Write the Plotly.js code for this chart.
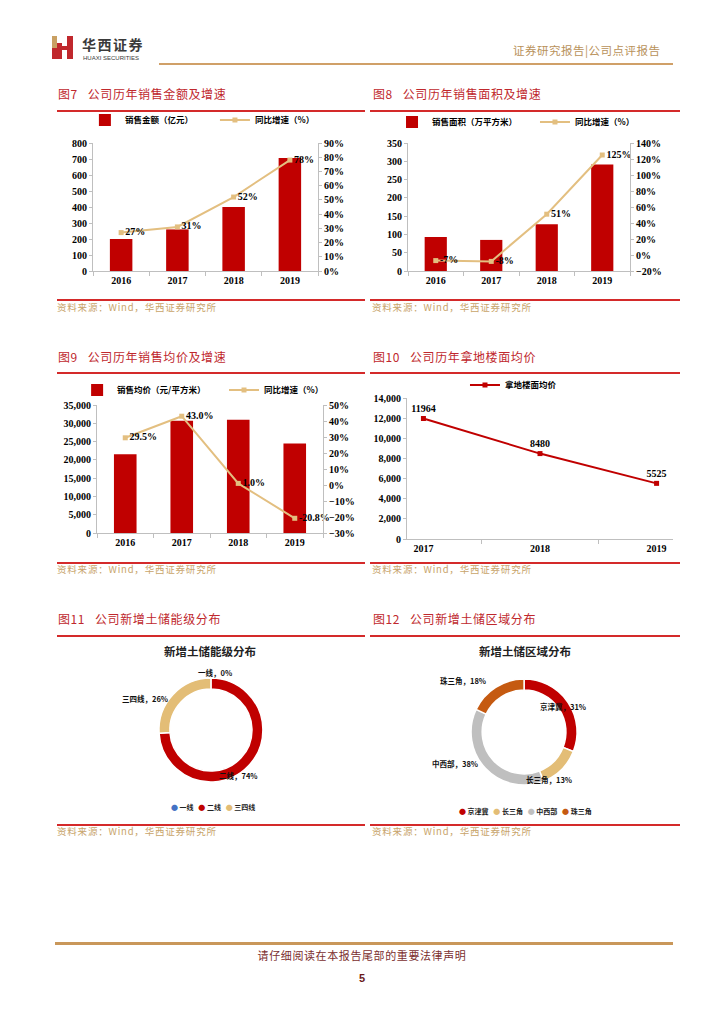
<!DOCTYPE html>
<html>
<head>
<meta charset="utf-8">
<script src="https://cdn.plot.ly/plotly-3.0.1.min.js"></script>
<style>
  html, body { margin:0; padding:0; background:#fff; }
  #page { position:relative; width:724px; height:1024px; overflow:hidden; background:#fff;
          font-family:"Noto Sans CJK SC", sans-serif; }
  .abs { position:absolute; }
  .txt { position:absolute; white-space:nowrap; transform:translateY(-50%); line-height:1; }
  .figt { color:#C0282D; font-size:12px; letter-spacing:0.6px; }
  .src { color:#C8A46A; font-size:9.5px; letter-spacing:0.8px; }
  .rline { position:absolute; height:2px; background:#D42A2A; }
  .chart { position:absolute; }
</style>
</head>
<body>
<div id="page">
  <!-- header -->
  <div class="abs" style="left:52px;top:36px;width:5px;height:12px;background:#C9A063;"></div>
  <div class="abs" style="left:52px;top:48px;width:5px;height:11px;background:#C0282D;"></div>
  <div class="abs" style="left:57px;top:43px;width:5px;height:16px;background:#C0282D;"></div>
  <div class="abs" style="left:67px;top:36px;width:6px;height:23px;background:#C0282D;"></div>
  <div class="abs" style="left:57px;top:46px;width:12px;height:4px;background:#C0282D;"></div>
  <div class="txt" style="left:82px;top:44px;font-size:14px;font-weight:bold;color:#3a3a3a;letter-spacing:1.5px;">华西证券</div>
  <div class="txt" style="left:83px;top:58px;font-size:6px;color:#3a3a3a;font-family:'Liberation Sans',sans-serif;">HUAXI SECURITIES</div>
  <div class="txt" style="left:513px;top:51px;font-size:11.5px;color:#B8915A;letter-spacing:0.5px;">证券研究报告|公司点评报告</div>
  <div class="abs" style="left:159px;top:63px;width:514px;height:2px;background:#D0A068;"></div>

  <!-- figure titles -->
  <div class="txt figt" style="left:58px;top:94px;">图7&nbsp;&nbsp;&nbsp;公司历年销售金额及增速</div>
  <div class="txt figt" style="left:373px;top:94px;">图8&nbsp;&nbsp;&nbsp;公司历年销售面积及增速</div>
  <div class="rline" style="left:57px;top:110px;width:308px;"></div>
  <div class="rline" style="left:370px;top:110px;width:310px;"></div>

  <div class="txt figt" style="left:58px;top:357px;">图9&nbsp;&nbsp;&nbsp;公司历年销售均价及增速</div>
  <div class="txt figt" style="left:373px;top:357px;">图10&nbsp;&nbsp;&nbsp;公司历年拿地楼面均价</div>
  <div class="rline" style="left:57px;top:372px;width:308px;"></div>
  <div class="rline" style="left:370px;top:372px;width:310px;"></div>

  <div class="txt figt" style="left:58px;top:619px;">图11&nbsp;&nbsp;&nbsp;公司新增土储能级分布</div>
  <div class="txt figt" style="left:373px;top:619px;">图12&nbsp;&nbsp;&nbsp;公司新增土储区域分布</div>
  <div class="rline" style="left:57px;top:635px;width:308px;"></div>
  <div class="rline" style="left:370px;top:635px;width:310px;"></div>

  <!-- source lines -->
  <div class="rline" style="left:57px;top:299px;width:308px;"></div>
  <div class="rline" style="left:370px;top:299px;width:310px;"></div>
  <div class="txt src" style="left:57px;top:308px;">资料来源：Wind，华西证券研究所</div>
  <div class="txt src" style="left:372px;top:308px;">资料来源：Wind，华西证券研究所</div>

  <div class="rline" style="left:57px;top:562px;width:308px;"></div>
  <div class="rline" style="left:370px;top:562px;width:310px;"></div>
  <div class="txt src" style="left:57px;top:570px;">资料来源：Wind，华西证券研究所</div>
  <div class="txt src" style="left:372px;top:570px;">资料来源：Wind，华西证券研究所</div>

  <div class="rline" style="left:57px;top:824px;width:308px;"></div>
  <div class="rline" style="left:370px;top:824px;width:310px;"></div>
  <div class="txt src" style="left:57px;top:832px;">资料来源：Wind，华西证券研究所</div>
  <div class="txt src" style="left:372px;top:832px;">资料来源：Wind，华西证券研究所</div>

  <!-- charts -->
  <div id="c7" class="chart" style="left:55px;top:113px;width:310px;height:185px;"></div>
  <div id="c8" class="chart" style="left:370px;top:113px;width:310px;height:185px;"></div>
  <div id="c9" class="chart" style="left:55px;top:376px;width:310px;height:186px;"></div>
  <div id="c10" class="chart" style="left:370px;top:376px;width:310px;height:186px;"></div>
  <div id="c11" class="chart" style="left:55px;top:640px;width:310px;height:182px;"></div>
  <div id="c12" class="chart" style="left:370px;top:640px;width:310px;height:182px;"></div>

  <!-- footer -->
  <div class="abs" style="left:55px;top:942px;width:618px;height:3px;background:#C9975A;"></div>
  <div class="txt" style="left:0;width:724px;text-align:center;top:955px;font-size:11px;color:#7B2E2E;letter-spacing:0.6px;">请仔细阅读在本报告尾部的重要法律声明</div>
  <div class="txt" style="left:0;width:724px;text-align:center;top:978px;font-size:11px;font-weight:bold;color:#6B1A1A;font-family:'Liberation Sans',sans-serif;">5</div>
</div>

<script>
// ---------------- data ----------------
var years4 = ['2016', '2017', '2018', '2019'];

var salesAmount = [200, 260, 400, 707];          // 亿元
var salesAmountGrowth = [27, 31, 52, 78];         // %

var salesArea = [93, 85, 128, 291];               // 万平方米
var salesAreaGrowth = [-7, -8, 51, 125];          // %

var avgPrice = [21500, 30700, 31000, 24500];      // 元/平方米
var avgPriceGrowth = [29.5, 43.0, 1.0, -20.8];    // %

var years3 = ['2017', '2018', '2019'];
var landPrice = [11964, 8480, 5525];

var tierLabels = ['一线', '二线', '三四线'];
var tierValues = [0, 74, 26];

var regionLabels = ['京津冀', '长三角', '中西部', '珠三角'];
var regionValues = [31, 13, 38, 18];

// ---------------- styles ----------------
var RED = '#C00000', TAN = '#E3BF80', AX = '#BFBFBF';
var NUMF = {family: 'Liberation Serif, Times New Roman, serif', size: 10, color: '#000', weight: 'bold'};
var CJK = 'Noto Sans CJK SC, sans-serif';
var LEGF = {family: CJK, size: 8.5, color: '#000', weight: 'bold'};
var cfg = {displayModeBar: false, staticPlot: true};

function yax(range, dtick, fmt, suffix, side) {
  var a = {range: range, dtick: dtick, tick0: range[0], showgrid: false, zeroline: false,
    showline: true, linecolor: AX, linewidth: 1, ticks: 'outside', ticklen: 3, tickcolor: AX,
    tickfont: NUMF, fixedrange: true, automargin: false};
  if (fmt) a.tickformat = fmt;
  if (suffix) a.ticksuffix = suffix;
  if (side === 'right') { a.side = 'right'; a.overlaying = 'y'; }
  return a;
}
function xax() {
  return {type: 'category', showgrid: false, zeroline: false, showline: true, linecolor: AX,
    linewidth: 1, ticks: 'outside', tickson: 'boundaries', ticklen: 4, tickcolor: AX,
    tickfont: NUMF, fixedrange: true, automargin: false};
}
function fmtPct(arr, dec) {
  return arr.map(function (v) { return v.toFixed(dec) + '%'; });
}
function legendAt(x, y) {
  return {orientation: 'h', x: x, xanchor: 'left', y: y, yanchor: 'middle', font: LEGF,
    itemwidth: 30, bgcolor: 'rgba(0,0,0,0)'};
}

function barLine(id, x, bars, line, barName, lineName, pctDec, m, yL, yR, leg) {
  var traces = [
    {type: 'bar', x: x, y: bars, name: barName, marker: {color: RED}, hoverinfo: 'none',
      legend: 'legend'},
    {type: 'scatter', mode: 'lines+markers+text', x: x, y: line, yaxis: 'y2', name: lineName,
      line: {color: TAN, width: 2}, marker: {color: TAN, symbol: 'square', size: 5},
      text: fmtPct(line, pctDec), textposition: 'middle right', textfont: NUMF, cliponaxis: false,
      hoverinfo: 'none', legend: 'legend2'}
  ];
  var layout = {
    width: 310, height: m.h, margin: {l: m.l, r: m.r, t: m.t, b: m.b, pad: 0, autoexpand: false},
    paper_bgcolor: 'rgba(0,0,0,0)', plot_bgcolor: 'rgba(0,0,0,0)',
    bargap: 0.6, showlegend: true,
    legend: legendAt(leg.x1, leg.y),
    legend2: legendAt(leg.x2, leg.y),
    xaxis: xax(), yaxis: yL, yaxis2: yR
  };
  Plotly.newPlot(id, traces, layout, cfg);
}

// 图7
barLine('c7', years4, salesAmount, salesAmountGrowth, '销售金额（亿元）', '同比增速（%）', 0,
  {h: 185, l: 38, r: 47, t: 30, b: 27},
  yax([0, 800], 100, 'd', '', 'left'), yax([0, 90], 10, 'd', '%', 'right'),
  {x1: -0.036, x2: 0.542, y: 1.18});

// 图8
barLine('c8', years4, salesArea, salesAreaGrowth, '销售面积（万平方米）', '同比增速（%）', 0,
  {h: 185, l: 38, r: 50, t: 30, b: 27},
  yax([0, 350], 50, 'd', '', 'left'), yax([-20, 140], 20, 'd', '%', 'right'),
  {x1: -0.072, x2: 0.572, y: 1.164});

// 图9
barLine('c9', years4, avgPrice, avgPriceGrowth, '销售均价（元/平方米）', '同比增速（%）', 1,
  {h: 186, l: 42, r: 42, t: 29, b: 29},
  yax([0, 35000], 5000, ',d', '', 'left'), yax([-30, 50], 10, 'd', '%', 'right'),
  {x1: -0.088, x2: 0.562, y: 1.117});

// 图10
Plotly.newPlot('c10', [
  {type: 'scatter', mode: 'lines+markers+text', x: years3, y: landPrice, name: '拿地楼面均价',
    line: {color: RED, width: 2}, marker: {color: RED, symbol: 'square', size: 5},
    text: landPrice.map(String), textposition: 'top center', textfont: NUMF, cliponaxis: false,
    hoverinfo: 'none'}
], {
  width: 310, height: 186, margin: {l: 37, r: 7, t: 22, b: 23, pad: 0, autoexpand: false},
  paper_bgcolor: 'rgba(0,0,0,0)', plot_bgcolor: 'rgba(0,0,0,0)', showlegend: true,
  legend: legendAt(0.218, 1.092),
  xaxis: xax(),
  yaxis: yax([0, 14000], 2000, ',d', '', 'left')
}, cfg);

// ---------------- donuts ----------------
function donut(id, title, labels, values, colors, dom, labelPos, legendPos) {
  var total = values.reduce(function (a, b) { return a + b; }, 0);
  var ann = labels.map(function (lb, i) {
    return {text: lb + '，' + Math.round(values[i] / total * 100) + '%', x: labelPos[i][0], y: labelPos[i][1],
      xref: 'paper', yref: 'paper', showarrow: false, xanchor: 'center', yanchor: 'middle',
      font: {family: CJK, size: 7.5, color: '#111', weight: 'bold'}};
  });
  var legText = labels.map(function (lb, i) {
    return '<span style="color:' + colors[i] + '">●</span> ' + lb;
  }).join('&nbsp;&nbsp;&nbsp;');
  ann.push({text: legText, x: legendPos[0], y: legendPos[1], xref: 'paper', yref: 'paper',
    showarrow: false, xanchor: 'center', yanchor: 'middle',
    font: {family: CJK, size: 7, color: '#222', weight: 'bold'}});
  Plotly.newPlot(id, [{
    type: 'pie', labels: labels, values: values, hole: 0.79, sort: false, direction: 'clockwise',
    rotation: 0, textinfo: 'none', hoverinfo: 'none', showlegend: false,
    marker: {colors: colors, line: {color: '#fff', width: 1.5}}, domain: dom
  }], {
    width: 310, height: 182, margin: {l: 0, r: 0, t: 0, b: 0, autoexpand: false},
    paper_bgcolor: 'rgba(0,0,0,0)',
    title: {text: title, x: 0.5, xanchor: 'center', y: 0.934, yanchor: 'middle',
      font: {family: CJK, size: 11.5, color: '#222', weight: 'bold'}},
    annotations: ann
  }, cfg);
}

donut('c11', '新增土储能级分布', tierLabels, tierValues, ['#4472C4', RED, '#E3BD76'],
  {x: [0.335, 0.671], y: [0.220, 0.791]},
  [[0.515, 0.824], [0.592, 0.253], [0.290, 0.681]],
  [0.51, 0.082]);

donut('c12', '新增土储区域分布', regionLabels, regionValues, [RED, '#E3BD76', '#BFBFBF', '#C55A11'],
  {x: [0.326, 0.668], y: [0.203, 0.786]},
  [[0.621, 0.632], [0.579, 0.231], [0.273, 0.324], [0.300, 0.775]],
  [0.503, 0.060]);
</script>
</body>
</html>
